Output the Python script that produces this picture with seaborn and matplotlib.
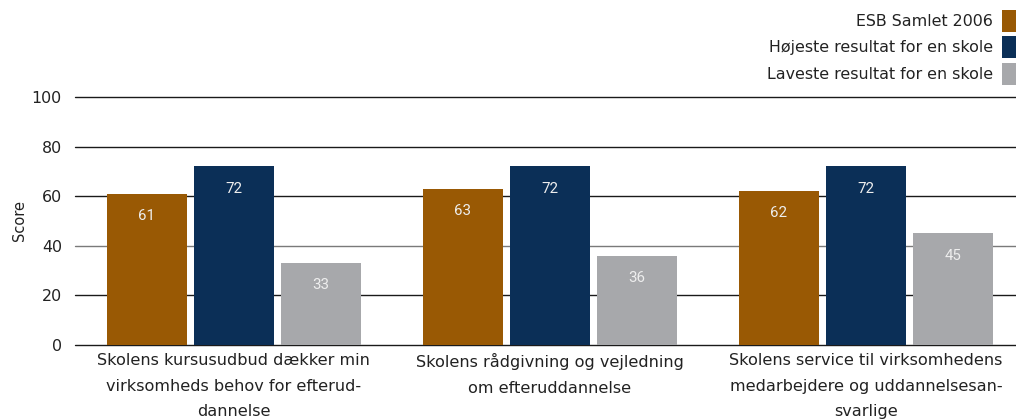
import matplotlib
matplotlib.use("Agg")
import matplotlib.pyplot as plt
import seaborn as sns
import pandas as pd

# Categories, series and scores
categories = [
    "Skolens kursusudbud dækker min\nvirksomheds behov for efterud-\ndannelse",
    "Skolens rådgivning og vejledning\nom efteruddannelse",
    "Skolens service til virksomhedens\nmedarbejdere og uddannelsesan-\nsvarlige",
]
series = ["ESB Samlet 2006", "Højeste resultat for en skole", "Laveste resultat for en skole"]
esb_samlet = [61, 63, 62]
hoejeste = [72, 72, 72]
laveste = [33, 36, 45]
yticks = [0, 20, 40, 60, 80, 100]
colors = ["#995904", "#0B2F57", "#A7A8AB"]

rows = []
for s, vals in zip(series, [esb_samlet, hoejeste, laveste]):
    for c, v in zip(categories, vals):
        rows.append({"Kategori": c, "Serie": s, "Score": v})
df = pd.DataFrame(rows)

sns.set_style("white")
plt.rcParams["font.family"] = ["DejaVu Sans"]

fig = plt.figure(figsize=(10.16, 4.2), dpi=100)
ax = fig.add_axes([0.0738, 0.1786, 0.9262, 0.5905])

sns.barplot(data=df, x="Kategori", y="Score", hue="Serie", order=categories,
            hue_order=series, palette=colors, width=0.826, gap=0.08,
            saturation=1, ax=ax, errorbar=None, linewidth=0, edgecolor="none")

ax.set_xlim(-0.503, 2.475)
ax.set_ylim(0, 100)
ax.set_yticks(yticks)
ax.grid(axis="y", color="#1a1a1a", linewidth=1.0)
ax.set_axisbelow(True)
for val, gl in zip(yticks, ax.get_ygridlines()):
    gl.set_clip_on(False)
    if val == 40:
        gl.set_color("#7a7a7a")
for sp in ax.spines.values():
    sp.set_visible(False)

ax.tick_params(axis="y", length=0, pad=9.5, labelsize=11.4, labelcolor="#222222")
ax.tick_params(axis="x", length=0, pad=6, labelsize=11.6, labelcolor="#222222")
for lbl in ax.get_xticklabels():
    lbl.set_linespacing(1.86)
ax.set_xlabel("")
ax.set_ylabel("Score", fontsize=10.5, color="#222222", labelpad=3)

# Value labels inside the bars
for cont in ax.containers:
    ax.bar_label(cont, labels=[f"{v:.0f}" for v in cont.datavalues],
                 padding=-21, color="#eeeeee", fontsize=10.8,
                 family=["Roboto", "DejaVu Sans"])

# Legend: text right-aligned, swatches on the right
handles, labels = ax.get_legend_handles_labels()
leg = ax.legend(handles, labels, loc="upper right", bbox_to_anchor=(1.0, 0.976),
                bbox_transform=fig.transFigure, frameon=False, markerfirst=False,
                handlelength=0.9, handleheight=1.75, handletextpad=0.55,
                labelspacing=0.28, fontsize=11.4, borderaxespad=0.0,
                borderpad=0.0)
for t in leg.get_texts():
    t.set_color("#222222")
    t.set_ha("right")
leg._legend_box.align = "right"

fig.savefig("out.png", dpi=100)
